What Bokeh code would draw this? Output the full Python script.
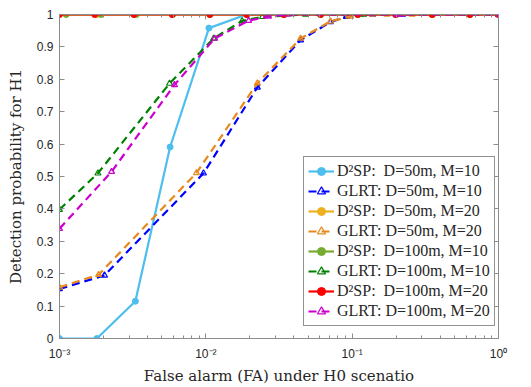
from bokeh.plotting import figure
from bokeh.models import (Range1d, FixedTicker, CustomJSTickFormatter, LinearAxis, LogAxis,
                          Legend, LegendItem)
from bokeh.embed import file_html
from bokeh.resources import INLINE

# ---------------- data ----------------
# D2SP curves
d2sp_x = [1e-3, 1.8e-3, 3.3e-3, 5.7e-3, 1.05e-2, 1.9e-2, 3.41e-2, 6.08e-2, 0.109, 0.198, 0.352, 0.637, 1.0]
d2sp_50_10 = [0.0, 0.0, 0.115, 0.591, 0.958, 1.0, 1.0, 1.0, 1.0, 1.0, 1.0, 1.0, 1.0]
d2sp_50_20_x = [1e-3, 1.8e-3, 3.25e-3, 5.9e-3, 1.06e-2, 1.9e-2, 3.41e-2, 6.08e-2, 0.109, 0.198, 0.352, 0.637, 1.0]
d2sp_50_20 = [1.0] * 13
d2sp_100_10_x = [1.11e-3, 1.92e-3, 3.35e-3, 5.95e-3, 1.07e-2, 1.92e-2, 3.45e-2, 6.1e-2, 0.11, 0.2, 0.355, 0.64, 1.0]
d2sp_100_10 = [1.0] * 13
d2sp_100_20_x = [1e-3, 1.74e-3, 3.22e-3, 5.89e-3, 1.064e-2, 1.9e-2, 3.41e-2, 6.08e-2, 0.109, 0.198, 0.352, 0.637, 1.0]
d2sp_100_20 = [1.0] * 13

# GLRT curves
glrt_50_10_x = [1e-3, 2.03e-3, 9.64e-3, 2.25e-2, 4.44e-2, 7.11e-2, 9.15e-2, 0.138, 0.221, 1.0]
glrt_50_10 = [0.153, 0.195, 0.510, 0.775, 0.921, 0.977, 0.993, 1.0, 1.0, 1.0]
glrt_50_20_x = [1e-3, 1.85e-3, 8.63e-3, 2.25e-2, 4.44e-2, 7.11e-2, 9.75e-2, 0.137, 0.173, 0.257, 1.0]
glrt_50_20 = [0.158, 0.197, 0.511, 0.788, 0.926, 0.979, 0.994, 1.0, 1.0, 1.0, 1.0]
glrt_100_10_x = [1e-3, 1.83e-3, 5.65e-3, 1.13e-2, 1.77e-2, 2.44e-2, 4.8e-2, 0.12, 1.0]
glrt_100_10 = [0.398, 0.510, 0.787, 0.926, 0.980, 0.993, 1.0, 1.0, 1.0]
glrt_100_20_x = [1e-3, 2.27e-3, 6.11e-3, 1.15e-2, 1.96e-2, 2.68e-2, 3.61e-2, 0.2, 0.215, 1.0]
glrt_100_20 = [0.339, 0.515, 0.783, 0.926, 0.981, 0.994, 1.0, 1.0, 1.0, 1.0]

x_major = [1e-3, 1e-2, 1e-1, 1.0]
x_minor = [m * 10.0 ** e for e in (-3, -2, -1) for m in range(2, 10)]
y_ticks = [i / 10 for i in range(11)]

labels = [
    "D\u00b2SP:  D=50m, M=10",
    "GLRT: D=50m, M=10",
    "D\u00b2SP:  D=50m, M=20",
    "GLRT: D=50m, M=20",
    "D\u00b2SP:  D=100m, M=10",
    "GLRT: D=100m, M=10",
    "D\u00b2SP:  D=100m, M=20",
    "GLRT: D=100m, M=20",
]

# ---------------- figure ----------------
p = figure(width=531, height=387, x_axis_type="log",
           x_range=Range1d(1e-3, 1.0), y_range=Range1d(0, 1.0),
           output_backend="svg", toolbar_location=None,
           min_border_left=59, min_border_right=33, min_border_top=14, min_border_bottom=46)
p.grid.visible = False
p.outline_line_color = None
p.background_fill_color = "white"

AX = "#8c8c8c"
TXT = "#262626"
fmt = CustomJSTickFormatter(code="""
const e = Math.round(Math.log10(tick));
const sup = {"-3": "\u207b\u00b3", "-2": "\u207b\u00b2", "-1": "\u207b\u00b9", "0": "\u2070"};
return "10" + sup[String(e)];
""")
blank = CustomJSTickFormatter(code="return '';")

def style(ax, labels_on):
    ax.axis_line_color = AX
    ax.major_tick_line_color = AX
    ax.minor_tick_line_color = AX
    ax.major_tick_in = 5
    ax.major_tick_out = 0
    ax.minor_tick_in = 3
    ax.minor_tick_out = 0
    if labels_on:
        ax.major_label_text_color = TXT
        ax.major_label_text_font = "Liberation Sans"
        ax.major_label_text_font_size = "12px"
    else:
        ax.major_label_text_color = None
        ax.major_label_text_font_size = "1px"
        ax.major_label_standoff = 0

xb = p.xaxis[0]
xb.ticker = FixedTicker(ticks=x_major, minor_ticks=x_minor)
xb.formatter = fmt
style(xb, True)
xb.major_label_standoff = 8
xb.axis_label = "False alarm (FA) under H0 scenatio"
xb.axis_label_text_font = "DejaVu Serif"
xb.axis_label_text_font_style = "normal"
xb.axis_label_text_font_size = "15px"
xb.axis_label_text_color = TXT
xb.axis_label_standoff = 3

yl = p.yaxis[0]
yl.ticker = FixedTicker(ticks=y_ticks, minor_ticks=[])
style(yl, True)
yl.major_label_standoff = 6
yl.axis_label = "Detection probability for H1"
yl.axis_label_text_font = "DejaVu Serif"
yl.axis_label_text_font_style = "normal"
yl.axis_label_text_font_size = "15px"
yl.axis_label_text_color = TXT
yl.axis_label_standoff = 9

ya = LinearAxis(ticker=FixedTicker(ticks=y_ticks, minor_ticks=[]), formatter=blank)
style(ya, False)
p.add_layout(ya, "right")
xa = LogAxis(ticker=FixedTicker(ticks=x_major, minor_ticks=x_minor), formatter=blank)
style(xa, False)
p.add_layout(xa, "above")

# ---------------- series ----------------
DASH = "8 5"
series = [
    (d2sp_x, d2sp_50_10, "#4DBEEE", "solid", "circle"),
    (glrt_50_10_x, glrt_50_10, "#0000FF", DASH, "triangle"),
    (d2sp_50_20_x, d2sp_50_20, "#EDB120", "solid", "circle"),
    (glrt_50_20_x, glrt_50_20, "#E8891E", DASH, "triangle"),
    (d2sp_100_10_x, d2sp_100_10, "#77AC30", "solid", "circle"),
    (glrt_100_10_x, glrt_100_10, "#008000", DASH, "triangle"),
    (d2sp_100_20_x, d2sp_100_20, "#FF0000", "solid", "circle"),
    (glrt_100_20_x, glrt_100_20, "#CC00CC", DASH, "triangle"),
]

items = []
for (xs, ys, col, dash, mk), lab in zip(series, labels):
    r1 = p.line(xs, ys, line_color=col, line_width=2.2, line_dash=dash)
    if mk == "circle":
        r2 = p.scatter(xs, ys, marker="circle", size=6, fill_color=col, line_color=col)
    else:
        r2 = p.scatter(xs, ys, marker="triangle", size=6, fill_color=None, line_color=col, line_width=1.2)
    items.append(LegendItem(label=lab, renderers=[r1, r2]))

legend = Legend(items=items, location=(244, 12))
legend.label_text_font = "Liberation Serif"
legend.label_text_font_size = "16px"
legend.label_text_color = TXT
legend.glyph_width = 26
legend.glyph_height = 20
legend.label_height = 20
legend.label_standoff = 3
legend.spacing = 0
legend.padding = 4
legend.margin = 0
legend.border_line_color = TXT
legend.border_line_width = 1
legend.background_fill_color = "white"
legend.background_fill_alpha = 1.0
p.add_layout(legend, "center")

open("out.html", "w").write(file_html(p, INLINE))
